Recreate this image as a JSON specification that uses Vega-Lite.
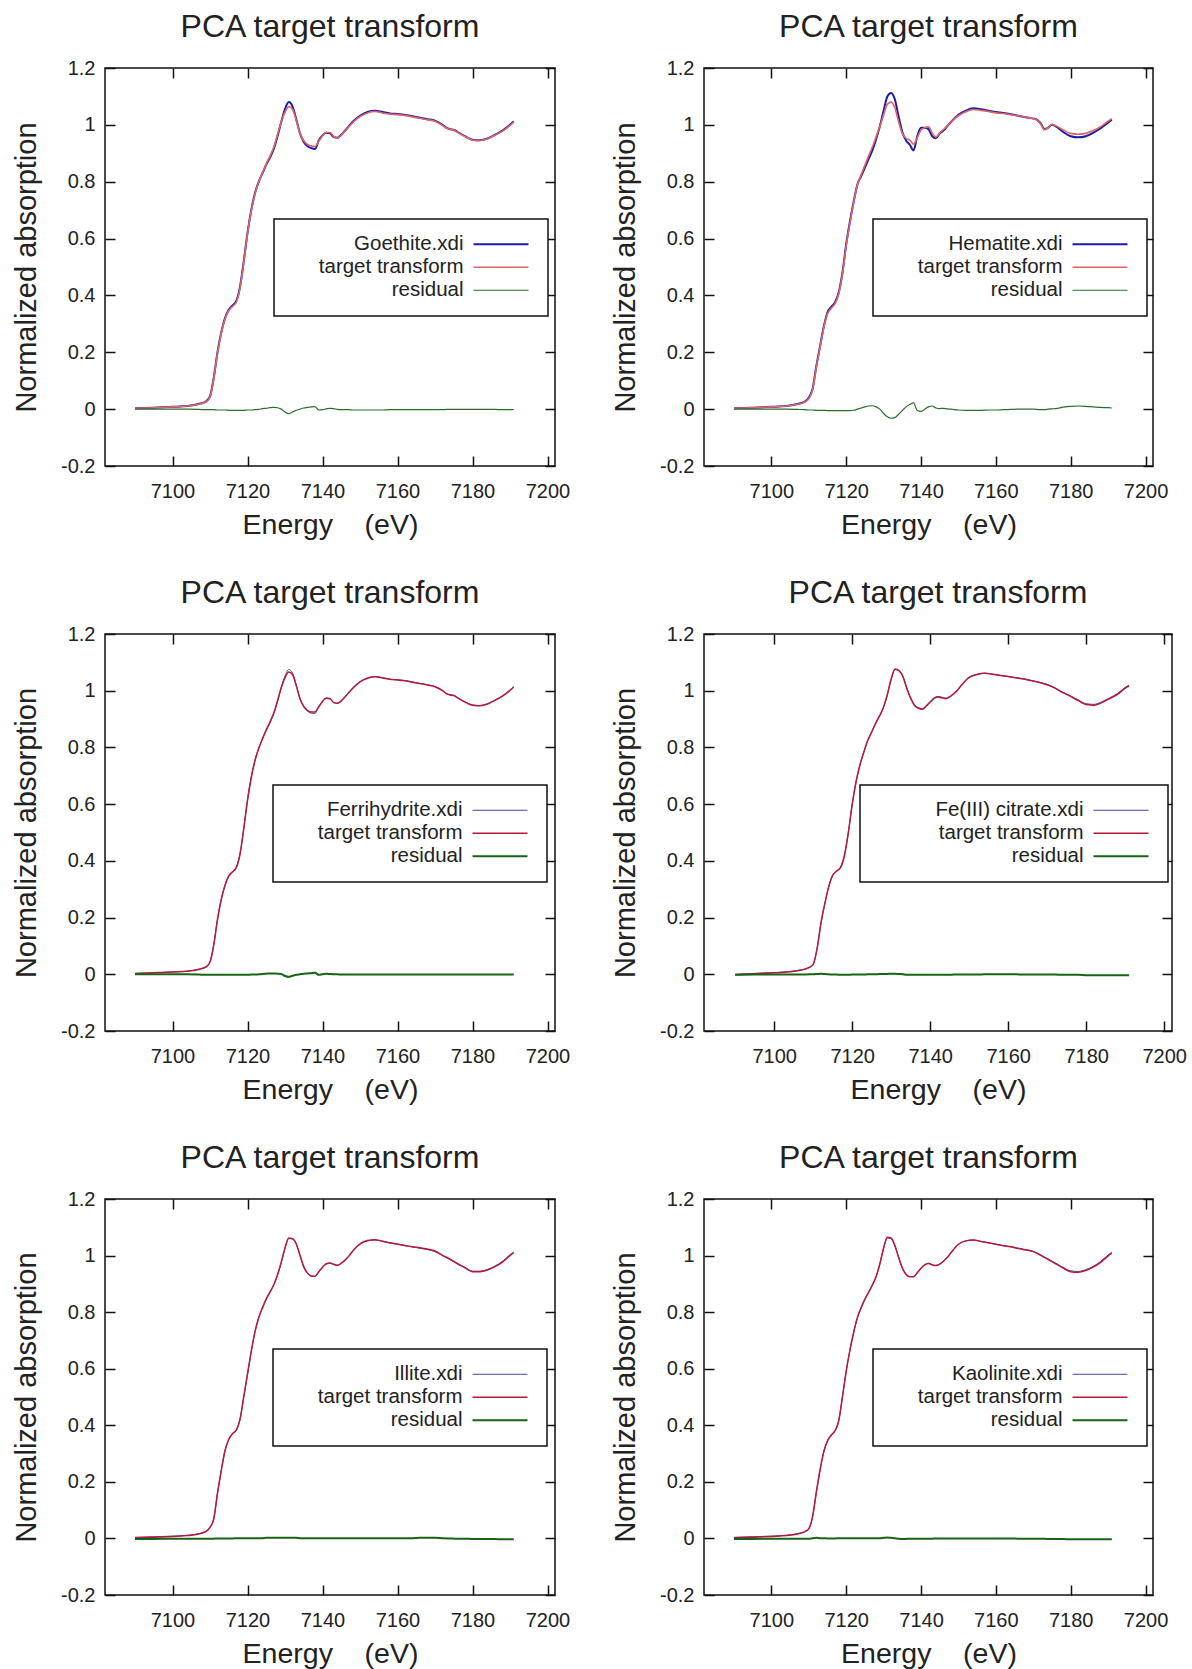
{
"$schema": "https://vega.github.io/schema/vega-lite/v6.json",
"background": "white",
"padding": {"left": 11, "top": 10, "right": 4, "bottom": 4},
"config": {
 "font": "Liberation Sans",
 "view": {"stroke": "#111", "strokeWidth": 1.5},
 "axis": {"domain": false, "grid": false, "tickSize": -10, "tickColor": "#111", "tickWidth": 1.5, "labelFont": "Liberation Sans", "labelFontSize": 20, "labelColor": "#222", "labelFlush": false, "labelOverlap": false, "titleFont": "Liberation Sans", "titleFontSize": 28.5, "titleFontWeight": "normal", "titleColor": "#222", "titleBaseline": "alphabetic"},
 "axisBottom": {"labelPadding": 41, "labelBaseline": "alphabetic", "titleY": 67},
 "axisLeft": {"labelPadding": 20, "titleX": -69.5, "titleFontSize": 29},
 "axisTop": {"labels": false},
 "axisRight": {"labels": false},
 "title": {"font": "Liberation Sans", "fontSize": 32, "fontWeight": "normal", "color": "#222", "baseline": "alphabetic", "offset": 14, "frame": "group", "anchor": "middle"},
 "legend": {"orient": "none", "labelFont": "Liberation Sans", "labelFontSize": 20.5, "labelColor": "#222", "labelLimit": 400, "padding": 15, "rowPadding": 2, "strokeColor": "#111", "fillColor": "white", "symbolType": "M-5.5,0H5.5", "symbolSize": 100}
},
"datasets": {
 "goethite": [
  {"E":7090,"ref":0.003,"tt":0.003,"res":0},{"E":7095,"ref":0.005,"tt":0.005,"res":0},{"E":7100,"ref":0.008,"tt":0.008,"res":0},{"E":7104,"ref":0.011,"tt":0.011,"res":0},{"E":7107,"ref":0.018,"tt":0.017,"res":-0.001},{"E":7109,"ref":0.028,"tt":0.026,"res":-0.002},{"E":7110,"ref":0.045,"tt":0.043,"res":-0.002},{"E":7111,"ref":0.11,"tt":0.108,"res":-0.002},{"E":7112,"ref":0.2,"tt":0.197,"res":-0.003},{"E":7113,"ref":0.27,"tt":0.267,"res":-0.003},{"E":7114,"ref":0.32,"tt":0.317,"res":-0.003},{"E":7115,"ref":0.35,"tt":0.346,"res":-0.004},{"E":7116,"ref":0.365,"tt":0.361,"res":-0.004},{"E":7117,"ref":0.38,"tt":0.376,"res":-0.004},{"E":7118,"ref":0.43,"tt":0.426,"res":-0.004},{"E":7119,"ref":0.52,"tt":0.516,"res":-0.004},{"E":7120,"ref":0.62,"tt":0.617,"res":-0.003},{"E":7121,"ref":0.7,"tt":0.697,"res":-0.003},{"E":7122,"ref":0.76,"tt":0.758,"res":-0.002},{"E":7123,"ref":0.8,"tt":0.799,"res":-0.001},{"E":7124,"ref":0.83,"tt":0.832,"res":0.002},{"E":7125,"ref":0.86,"tt":0.863,"res":0.003},{"E":7126,"ref":0.885,"tt":0.89,"res":0.005},{"E":7127,"ref":0.915,"tt":0.921,"res":0.006},{"E":7128,"ref":0.96,"tt":0.965,"res":0.005},{"E":7129,"ref":1.01,"tt":1.01,"res":0},{"E":7130,"ref":1.055,"tt":1.045,"res":-0.01},{"E":7131,"ref":1.08,"tt":1.064,"res":-0.016},{"E":7132,"ref":1.065,"tt":1.055,"res":-0.01},{"E":7133,"ref":1.02,"tt":1.016,"res":-0.004},{"E":7134,"ref":0.97,"tt":0.97,"res":0},{"E":7135,"ref":0.94,"tt":0.944,"res":0.004},{"E":7136,"ref":0.925,"tt":0.931,"res":0.006},{"E":7137,"ref":0.918,"tt":0.926,"res":0.008},{"E":7138,"ref":0.915,"tt":0.924,"res":0.009},{"E":7139,"ref":0.945,"tt":0.942,"res":-0.003},{"E":7140,"ref":0.963,"tt":0.961,"res":-0.002},{"E":7141,"ref":0.972,"tt":0.973,"res":0.001},{"E":7142,"ref":0.97,"tt":0.973,"res":0.003},{"E":7143,"ref":0.957,"tt":0.959,"res":0.002},{"E":7144,"ref":0.955,"tt":0.954,"res":-0.001},{"E":7145,"ref":0.965,"tt":0.963,"res":-0.002},{"E":7146,"ref":0.98,"tt":0.978,"res":-0.002},{"E":7147,"ref":0.995,"tt":0.993,"res":-0.002},{"E":7148,"ref":1.01,"tt":1.007,"res":-0.003},{"E":7150,"ref":1.032,"tt":1.029,"res":-0.003},{"E":7152,"ref":1.045,"tt":1.042,"res":-0.003},{"E":7154,"ref":1.05,"tt":1.047,"res":-0.003},{"E":7156,"ref":1.045,"tt":1.042,"res":-0.003},{"E":7158,"ref":1.04,"tt":1.038,"res":-0.002},{"E":7160,"ref":1.038,"tt":1.036,"res":-0.002},{"E":7162,"ref":1.035,"tt":1.033,"res":-0.002},{"E":7164,"ref":1.03,"tt":1.028,"res":-0.002},{"E":7166,"ref":1.025,"tt":1.023,"res":-0.002},{"E":7168,"ref":1.02,"tt":1.018,"res":-0.002},{"E":7170,"ref":1.015,"tt":1.013,"res":-0.002},{"E":7172,"ref":1.0,"tt":0.998,"res":-0.002},{"E":7173,"ref":0.99,"tt":0.989,"res":-0.001},{"E":7174,"ref":0.985,"tt":0.984,"res":-0.001},{"E":7175,"ref":0.983,"tt":0.982,"res":-0.001},{"E":7176,"ref":0.975,"tt":0.974,"res":-0.001},{"E":7178,"ref":0.96,"tt":0.959,"res":-0.001},{"E":7180,"ref":0.948,"tt":0.947,"res":-0.001},{"E":7182,"ref":0.946,"tt":0.945,"res":-0.001},{"E":7184,"ref":0.952,"tt":0.951,"res":-0.001},{"E":7186,"ref":0.965,"tt":0.964,"res":-0.001},{"E":7188,"ref":0.98,"tt":0.978,"res":-0.002},{"E":7190,"ref":1.0,"tt":0.998,"res":-0.002},{"E":7191,"ref":1.012,"tt":1.01,"res":-0.002}
 ],
 "hematite": [
  {"E":7090,"ref":0.003,"tt":0.003,"res":0},{"E":7095,"ref":0.005,"tt":0.005,"res":0},{"E":7100,"ref":0.008,"tt":0.008,"res":0},{"E":7104,"ref":0.011,"tt":0.011,"res":0},{"E":7107,"ref":0.018,"tt":0.017,"res":-0.001},{"E":7109,"ref":0.027,"tt":0.025,"res":-0.002},{"E":7110,"ref":0.04,"tt":0.037,"res":-0.003},{"E":7111,"ref":0.07,"tt":0.067,"res":-0.003},{"E":7112,"ref":0.15,"tt":0.146,"res":-0.004},{"E":7113,"ref":0.22,"tt":0.216,"res":-0.004},{"E":7114,"ref":0.29,"tt":0.286,"res":-0.004},{"E":7115,"ref":0.34,"tt":0.335,"res":-0.005},{"E":7116,"ref":0.36,"tt":0.355,"res":-0.005},{"E":7117,"ref":0.375,"tt":0.37,"res":-0.005},{"E":7118,"ref":0.41,"tt":0.405,"res":-0.005},{"E":7119,"ref":0.48,"tt":0.475,"res":-0.005},{"E":7120,"ref":0.58,"tt":0.575,"res":-0.005},{"E":7121,"ref":0.66,"tt":0.655,"res":-0.005},{"E":7122,"ref":0.73,"tt":0.726,"res":-0.004},{"E":7123,"ref":0.79,"tt":0.79,"res":0},{"E":7124,"ref":0.82,"tt":0.824,"res":0.004},{"E":7125,"ref":0.85,"tt":0.858,"res":0.008},{"E":7126,"ref":0.88,"tt":0.891,"res":0.011},{"E":7127,"ref":0.91,"tt":0.922,"res":0.012},{"E":7128,"ref":0.95,"tt":0.958,"res":0.008},{"E":7129,"ref":0.995,"tt":0.995,"res":0},{"E":7130,"ref":1.05,"tt":1.035,"res":-0.015},{"E":7131,"ref":1.1,"tt":1.073,"res":-0.027},{"E":7132,"ref":1.112,"tt":1.08,"res":-0.032},{"E":7133,"ref":1.09,"tt":1.06,"res":-0.03},{"E":7134,"ref":1.03,"tt":1.012,"res":-0.018},{"E":7135,"ref":0.975,"tt":0.97,"res":-0.005},{"E":7136,"ref":0.945,"tt":0.953,"res":0.008},{"E":7137,"ref":0.93,"tt":0.946,"res":0.016},{"E":7138,"ref":0.91,"tt":0.932,"res":0.022},{"E":7139,"ref":0.96,"tt":0.955,"res":-0.005},{"E":7140,"ref":0.99,"tt":0.982,"res":-0.008},{"E":7141,"ref":0.99,"tt":0.99,"res":0},{"E":7142,"ref":0.985,"tt":0.993,"res":0.008},{"E":7143,"ref":0.96,"tt":0.971,"res":0.011},{"E":7144,"ref":0.953,"tt":0.957,"res":0.004},{"E":7145,"ref":0.97,"tt":0.972,"res":0.002},{"E":7146,"ref":0.98,"tt":0.983,"res":0.003},{"E":7147,"ref":0.995,"tt":0.996,"res":0.001},{"E":7148,"ref":1.01,"tt":1.01,"res":0},{"E":7150,"ref":1.035,"tt":1.032,"res":-0.003},{"E":7152,"ref":1.05,"tt":1.046,"res":-0.004},{"E":7154,"ref":1.058,"tt":1.054,"res":-0.004},{"E":7156,"ref":1.055,"tt":1.051,"res":-0.004},{"E":7158,"ref":1.05,"tt":1.047,"res":-0.003},{"E":7160,"ref":1.045,"tt":1.042,"res":-0.003},{"E":7162,"ref":1.042,"tt":1.04,"res":-0.002},{"E":7164,"ref":1.037,"tt":1.036,"res":-0.001},{"E":7166,"ref":1.032,"tt":1.032,"res":0},{"E":7168,"ref":1.027,"tt":1.027,"res":0},{"E":7170,"ref":1.022,"tt":1.022,"res":0},{"E":7171,"ref":1.018,"tt":1.017,"res":-0.001},{"E":7172,"ref":1.005,"tt":1.003,"res":-0.002},{"E":7173,"ref":0.985,"tt":0.983,"res":-0.002},{"E":7174,"ref":0.99,"tt":0.99,"res":0},{"E":7175,"ref":1.0,"tt":1.001,"res":0.001},{"E":7176,"ref":0.995,"tt":0.997,"res":0.002},{"E":7178,"ref":0.975,"tt":0.982,"res":0.007},{"E":7180,"ref":0.96,"tt":0.97,"res":0.01},{"E":7182,"ref":0.956,"tt":0.967,"res":0.011},{"E":7184,"ref":0.96,"tt":0.97,"res":0.01},{"E":7186,"ref":0.972,"tt":0.98,"res":0.008},{"E":7188,"ref":0.988,"tt":0.994,"res":0.006},{"E":7190,"ref":1.008,"tt":1.013,"res":0.005},{"E":7191,"ref":1.018,"tt":1.022,"res":0.004}
 ],
 "ferrihydrite": [
  {"E":7090,"ref":0.003,"tt":0.003,"res":0},{"E":7095,"ref":0.005,"tt":0.005,"res":0},{"E":7100,"ref":0.008,"tt":0.008,"res":0},{"E":7104,"ref":0.011,"tt":0.011,"res":0},{"E":7107,"ref":0.018,"tt":0.017,"res":-0.001},{"E":7109,"ref":0.028,"tt":0.026,"res":-0.002},{"E":7110,"ref":0.045,"tt":0.043,"res":-0.002},{"E":7111,"ref":0.105,"tt":0.103,"res":-0.002},{"E":7112,"ref":0.195,"tt":0.193,"res":-0.002},{"E":7113,"ref":0.265,"tt":0.263,"res":-0.002},{"E":7114,"ref":0.315,"tt":0.313,"res":-0.002},{"E":7115,"ref":0.348,"tt":0.346,"res":-0.002},{"E":7116,"ref":0.363,"tt":0.361,"res":-0.002},{"E":7117,"ref":0.378,"tt":0.376,"res":-0.002},{"E":7118,"ref":0.425,"tt":0.423,"res":-0.002},{"E":7119,"ref":0.515,"tt":0.513,"res":-0.002},{"E":7120,"ref":0.615,"tt":0.613,"res":-0.002},{"E":7121,"ref":0.695,"tt":0.694,"res":-0.001},{"E":7122,"ref":0.755,"tt":0.754,"res":-0.001},{"E":7123,"ref":0.797,"tt":0.797,"res":0},{"E":7124,"ref":0.83,"tt":0.831,"res":0.001},{"E":7125,"ref":0.86,"tt":0.862,"res":0.002},{"E":7126,"ref":0.887,"tt":0.89,"res":0.003},{"E":7127,"ref":0.918,"tt":0.921,"res":0.003},{"E":7128,"ref":0.962,"tt":0.964,"res":0.002},{"E":7129,"ref":1.01,"tt":1.011,"res":0.001},{"E":7130,"ref":1.052,"tt":1.046,"res":-0.006},{"E":7131,"ref":1.075,"tt":1.066,"res":-0.009},{"E":7132,"ref":1.062,"tt":1.057,"res":-0.005},{"E":7133,"ref":1.02,"tt":1.018,"res":-0.002},{"E":7134,"ref":0.972,"tt":0.972,"res":0},{"E":7135,"ref":0.943,"tt":0.945,"res":0.002},{"E":7136,"ref":0.928,"tt":0.931,"res":0.003},{"E":7137,"ref":0.921,"tt":0.925,"res":0.004},{"E":7138,"ref":0.92,"tt":0.925,"res":0.005},{"E":7139,"ref":0.945,"tt":0.943,"res":-0.002},{"E":7140,"ref":0.962,"tt":0.962,"res":0},{"E":7141,"ref":0.972,"tt":0.974,"res":0.002},{"E":7142,"ref":0.971,"tt":0.972,"res":0.001},{"E":7143,"ref":0.958,"tt":0.958,"res":0},{"E":7144,"ref":0.956,"tt":0.956,"res":0},{"E":7145,"ref":0.965,"tt":0.964,"res":-0.001},{"E":7146,"ref":0.979,"tt":0.978,"res":-0.001},{"E":7147,"ref":0.994,"tt":0.993,"res":-0.001},{"E":7148,"ref":1.009,"tt":1.008,"res":-0.001},{"E":7150,"ref":1.032,"tt":1.031,"res":-0.001},{"E":7152,"ref":1.045,"tt":1.044,"res":-0.001},{"E":7154,"ref":1.05,"tt":1.049,"res":-0.001},{"E":7156,"ref":1.046,"tt":1.045,"res":-0.001},{"E":7158,"ref":1.041,"tt":1.04,"res":-0.001},{"E":7160,"ref":1.039,"tt":1.038,"res":-0.001},{"E":7162,"ref":1.036,"tt":1.035,"res":-0.001},{"E":7164,"ref":1.031,"tt":1.03,"res":-0.001},{"E":7166,"ref":1.026,"tt":1.025,"res":-0.001},{"E":7168,"ref":1.021,"tt":1.02,"res":-0.001},{"E":7170,"ref":1.015,"tt":1.014,"res":-0.001},{"E":7172,"ref":1.001,"tt":1.0,"res":-0.001},{"E":7173,"ref":0.991,"tt":0.99,"res":-0.001},{"E":7174,"ref":0.986,"tt":0.985,"res":-0.001},{"E":7175,"ref":0.984,"tt":0.983,"res":-0.001},{"E":7176,"ref":0.976,"tt":0.975,"res":-0.001},{"E":7178,"ref":0.961,"tt":0.96,"res":-0.001},{"E":7180,"ref":0.95,"tt":0.949,"res":-0.001},{"E":7182,"ref":0.948,"tt":0.947,"res":-0.001},{"E":7184,"ref":0.954,"tt":0.953,"res":-0.001},{"E":7186,"ref":0.967,"tt":0.966,"res":-0.001},{"E":7188,"ref":0.982,"tt":0.981,"res":-0.001},{"E":7190,"ref":1.002,"tt":1.001,"res":-0.001},{"E":7191,"ref":1.014,"tt":1.013,"res":-0.001}
 ],
 "citrate": [
  {"E":7090,"ref":0.0,"tt":-0.002,"res":-0.002},{"E":7095,"ref":0.003,"tt":0.002,"res":-0.001},{"E":7100,"ref":0.006,"tt":0.005,"res":-0.001},{"E":7104,"ref":0.01,"tt":0.009,"res":-0.001},{"E":7107,"ref":0.016,"tt":0.015,"res":-0.001},{"E":7109,"ref":0.024,"tt":0.024,"res":0},{"E":7110,"ref":0.035,"tt":0.035,"res":0},{"E":7111,"ref":0.09,"tt":0.091,"res":0.001},{"E":7112,"ref":0.18,"tt":0.182,"res":0.002},{"E":7113,"ref":0.25,"tt":0.251,"res":0.001},{"E":7114,"ref":0.31,"tt":0.31,"res":0},{"E":7115,"ref":0.35,"tt":0.349,"res":-0.001},{"E":7116,"ref":0.365,"tt":0.364,"res":-0.001},{"E":7117,"ref":0.378,"tt":0.376,"res":-0.002},{"E":7118,"ref":0.42,"tt":0.418,"res":-0.002},{"E":7119,"ref":0.5,"tt":0.498,"res":-0.002},{"E":7120,"ref":0.6,"tt":0.599,"res":-0.001},{"E":7121,"ref":0.68,"tt":0.679,"res":-0.001},{"E":7122,"ref":0.74,"tt":0.739,"res":-0.001},{"E":7123,"ref":0.785,"tt":0.784,"res":-0.001},{"E":7124,"ref":0.825,"tt":0.825,"res":0},{"E":7125,"ref":0.855,"tt":0.855,"res":0},{"E":7126,"ref":0.885,"tt":0.885,"res":0},{"E":7127,"ref":0.91,"tt":0.911,"res":0.001},{"E":7128,"ref":0.94,"tt":0.941,"res":0.001},{"E":7129,"ref":0.985,"tt":0.986,"res":0.001},{"E":7130,"ref":1.04,"tt":1.042,"res":0.002},{"E":7131,"ref":1.075,"tt":1.077,"res":0.002},{"E":7132,"ref":1.07,"tt":1.071,"res":0.001},{"E":7133,"ref":1.05,"tt":1.05,"res":0},{"E":7134,"ref":1.01,"tt":1.008,"res":-0.002},{"E":7135,"ref":0.975,"tt":0.973,"res":-0.002},{"E":7136,"ref":0.95,"tt":0.948,"res":-0.002},{"E":7137,"ref":0.94,"tt":0.938,"res":-0.002},{"E":7138,"ref":0.937,"tt":0.935,"res":-0.002},{"E":7139,"ref":0.948,"tt":0.946,"res":-0.002},{"E":7140,"ref":0.962,"tt":0.96,"res":-0.002},{"E":7141,"ref":0.975,"tt":0.973,"res":-0.002},{"E":7142,"ref":0.98,"tt":0.978,"res":-0.002},{"E":7143,"ref":0.977,"tt":0.975,"res":-0.002},{"E":7144,"ref":0.974,"tt":0.972,"res":-0.002},{"E":7145,"ref":0.98,"tt":0.978,"res":-0.002},{"E":7146,"ref":0.99,"tt":0.989,"res":-0.001},{"E":7147,"ref":1.003,"tt":1.002,"res":-0.001},{"E":7148,"ref":1.02,"tt":1.019,"res":-0.001},{"E":7150,"ref":1.048,"tt":1.047,"res":-0.001},{"E":7152,"ref":1.058,"tt":1.057,"res":-0.001},{"E":7154,"ref":1.062,"tt":1.062,"res":0},{"E":7156,"ref":1.058,"tt":1.058,"res":0},{"E":7158,"ref":1.054,"tt":1.054,"res":0},{"E":7160,"ref":1.05,"tt":1.05,"res":0},{"E":7162,"ref":1.046,"tt":1.046,"res":0},{"E":7164,"ref":1.042,"tt":1.041,"res":-0.001},{"E":7166,"ref":1.036,"tt":1.035,"res":-0.001},{"E":7168,"ref":1.03,"tt":1.029,"res":-0.001},{"E":7170,"ref":1.022,"tt":1.021,"res":-0.001},{"E":7172,"ref":1.01,"tt":1.009,"res":-0.001},{"E":7174,"ref":0.995,"tt":0.993,"res":-0.002},{"E":7176,"ref":0.982,"tt":0.98,"res":-0.002},{"E":7178,"ref":0.967,"tt":0.965,"res":-0.002},{"E":7180,"ref":0.954,"tt":0.951,"res":-0.003},{"E":7182,"ref":0.952,"tt":0.949,"res":-0.003},{"E":7184,"ref":0.961,"tt":0.958,"res":-0.003},{"E":7186,"ref":0.975,"tt":0.972,"res":-0.003},{"E":7188,"ref":0.99,"tt":0.987,"res":-0.003},{"E":7190,"ref":1.012,"tt":1.009,"res":-0.003},{"E":7191,"ref":1.02,"tt":1.017,"res":-0.003}
 ],
 "illite": [
  {"E":7090,"ref":0.004,"tt":0.002,"res":-0.002},{"E":7095,"ref":0.006,"tt":0.004,"res":-0.002},{"E":7100,"ref":0.008,"tt":0.007,"res":-0.001},{"E":7104,"ref":0.011,"tt":0.01,"res":-0.001},{"E":7107,"ref":0.017,"tt":0.016,"res":-0.001},{"E":7109,"ref":0.026,"tt":0.025,"res":-0.001},{"E":7110,"ref":0.04,"tt":0.039,"res":-0.001},{"E":7111,"ref":0.07,"tt":0.069,"res":-0.001},{"E":7112,"ref":0.16,"tt":0.16,"res":0},{"E":7113,"ref":0.24,"tt":0.24,"res":0},{"E":7114,"ref":0.31,"tt":0.31,"res":0},{"E":7115,"ref":0.35,"tt":0.35,"res":0},{"E":7116,"ref":0.37,"tt":0.37,"res":0},{"E":7117,"ref":0.382,"tt":0.383,"res":0.001},{"E":7118,"ref":0.42,"tt":0.421,"res":0.001},{"E":7119,"ref":0.5,"tt":0.501,"res":0.001},{"E":7120,"ref":0.58,"tt":0.581,"res":0.001},{"E":7121,"ref":0.66,"tt":0.661,"res":0.001},{"E":7122,"ref":0.73,"tt":0.731,"res":0.001},{"E":7123,"ref":0.78,"tt":0.781,"res":0.001},{"E":7124,"ref":0.815,"tt":0.816,"res":0.001},{"E":7125,"ref":0.845,"tt":0.847,"res":0.002},{"E":7126,"ref":0.87,"tt":0.872,"res":0.002},{"E":7127,"ref":0.895,"tt":0.897,"res":0.002},{"E":7128,"ref":0.93,"tt":0.932,"res":0.002},{"E":7129,"ref":0.975,"tt":0.977,"res":0.002},{"E":7130,"ref":1.025,"tt":1.027,"res":0.002},{"E":7131,"ref":1.06,"tt":1.062,"res":0.002},{"E":7132,"ref":1.058,"tt":1.06,"res":0.002},{"E":7133,"ref":1.04,"tt":1.042,"res":0.002},{"E":7134,"ref":1.0,"tt":1.001,"res":0.001},{"E":7135,"ref":0.96,"tt":0.961,"res":0.001},{"E":7136,"ref":0.937,"tt":0.938,"res":0.001},{"E":7137,"ref":0.927,"tt":0.928,"res":0.001},{"E":7138,"ref":0.926,"tt":0.927,"res":0.001},{"E":7139,"ref":0.942,"tt":0.943,"res":0.001},{"E":7140,"ref":0.958,"tt":0.959,"res":0.001},{"E":7141,"ref":0.97,"tt":0.971,"res":0.001},{"E":7142,"ref":0.973,"tt":0.974,"res":0.001},{"E":7143,"ref":0.968,"tt":0.969,"res":0.001},{"E":7144,"ref":0.965,"tt":0.966,"res":0.001},{"E":7145,"ref":0.972,"tt":0.973,"res":0.001},{"E":7146,"ref":0.983,"tt":0.984,"res":0.001},{"E":7147,"ref":0.997,"tt":0.998,"res":0.001},{"E":7148,"ref":1.014,"tt":1.015,"res":0.001},{"E":7150,"ref":1.04,"tt":1.041,"res":0.001},{"E":7152,"ref":1.052,"tt":1.053,"res":0.001},{"E":7154,"ref":1.055,"tt":1.056,"res":0.001},{"E":7156,"ref":1.05,"tt":1.051,"res":0.001},{"E":7158,"ref":1.044,"tt":1.045,"res":0.001},{"E":7160,"ref":1.04,"tt":1.041,"res":0.001},{"E":7162,"ref":1.035,"tt":1.036,"res":0.001},{"E":7164,"ref":1.03,"tt":1.031,"res":0.001},{"E":7166,"ref":1.026,"tt":1.028,"res":0.002},{"E":7168,"ref":1.021,"tt":1.023,"res":0.002},{"E":7170,"ref":1.014,"tt":1.016,"res":0.002},{"E":7172,"ref":1.0,"tt":1.001,"res":0.001},{"E":7174,"ref":0.987,"tt":0.987,"res":0},{"E":7176,"ref":0.972,"tt":0.971,"res":-0.001},{"E":7178,"ref":0.958,"tt":0.957,"res":-0.001},{"E":7180,"ref":0.945,"tt":0.943,"res":-0.002},{"E":7182,"ref":0.945,"tt":0.943,"res":-0.002},{"E":7184,"ref":0.951,"tt":0.949,"res":-0.002},{"E":7186,"ref":0.963,"tt":0.961,"res":-0.002},{"E":7188,"ref":0.98,"tt":0.977,"res":-0.003},{"E":7190,"ref":1.003,"tt":1.0,"res":-0.003},{"E":7191,"ref":1.013,"tt":1.01,"res":-0.003}
 ],
 "kaolinite": [
  {"E":7090,"ref":0.004,"tt":0.002,"res":-0.002},{"E":7095,"ref":0.006,"tt":0.004,"res":-0.002},{"E":7100,"ref":0.008,"tt":0.007,"res":-0.001},{"E":7104,"ref":0.011,"tt":0.01,"res":-0.001},{"E":7107,"ref":0.017,"tt":0.016,"res":-0.001},{"E":7109,"ref":0.025,"tt":0.024,"res":-0.001},{"E":7110,"ref":0.035,"tt":0.034,"res":-0.001},{"E":7111,"ref":0.075,"tt":0.076,"res":0.001},{"E":7112,"ref":0.16,"tt":0.162,"res":0.002},{"E":7113,"ref":0.24,"tt":0.241,"res":0.001},{"E":7114,"ref":0.305,"tt":0.306,"res":0.001},{"E":7115,"ref":0.345,"tt":0.345,"res":0},{"E":7116,"ref":0.365,"tt":0.365,"res":0},{"E":7117,"ref":0.38,"tt":0.38,"res":0},{"E":7118,"ref":0.415,"tt":0.416,"res":0.001},{"E":7119,"ref":0.5,"tt":0.501,"res":0.001},{"E":7120,"ref":0.59,"tt":0.591,"res":0.001},{"E":7121,"ref":0.665,"tt":0.666,"res":0.001},{"E":7122,"ref":0.728,"tt":0.729,"res":0.001},{"E":7123,"ref":0.78,"tt":0.781,"res":0.001},{"E":7124,"ref":0.815,"tt":0.816,"res":0.001},{"E":7125,"ref":0.845,"tt":0.846,"res":0.001},{"E":7126,"ref":0.87,"tt":0.871,"res":0.001},{"E":7127,"ref":0.895,"tt":0.896,"res":0.001},{"E":7128,"ref":0.925,"tt":0.926,"res":0.001},{"E":7129,"ref":0.97,"tt":0.971,"res":0.001},{"E":7130,"ref":1.025,"tt":1.027,"res":0.002},{"E":7131,"ref":1.062,"tt":1.065,"res":0.003},{"E":7132,"ref":1.06,"tt":1.062,"res":0.002},{"E":7133,"ref":1.035,"tt":1.036,"res":0.001},{"E":7134,"ref":0.995,"tt":0.994,"res":-0.001},{"E":7135,"ref":0.958,"tt":0.956,"res":-0.002},{"E":7136,"ref":0.935,"tt":0.933,"res":-0.002},{"E":7137,"ref":0.926,"tt":0.925,"res":-0.001},{"E":7138,"ref":0.926,"tt":0.925,"res":-0.001},{"E":7139,"ref":0.94,"tt":0.939,"res":-0.001},{"E":7140,"ref":0.956,"tt":0.955,"res":-0.001},{"E":7141,"ref":0.968,"tt":0.967,"res":-0.001},{"E":7142,"ref":0.973,"tt":0.972,"res":-0.001},{"E":7143,"ref":0.968,"tt":0.967,"res":-0.001},{"E":7144,"ref":0.965,"tt":0.965,"res":0},{"E":7145,"ref":0.97,"tt":0.97,"res":0},{"E":7146,"ref":0.98,"tt":0.98,"res":0},{"E":7147,"ref":0.993,"tt":0.993,"res":0},{"E":7148,"ref":1.01,"tt":1.01,"res":0},{"E":7150,"ref":1.04,"tt":1.04,"res":0},{"E":7152,"ref":1.052,"tt":1.052,"res":0},{"E":7154,"ref":1.055,"tt":1.055,"res":0},{"E":7156,"ref":1.05,"tt":1.05,"res":0},{"E":7158,"ref":1.045,"tt":1.045,"res":0},{"E":7160,"ref":1.04,"tt":1.04,"res":0},{"E":7162,"ref":1.035,"tt":1.035,"res":0},{"E":7164,"ref":1.031,"tt":1.031,"res":0},{"E":7166,"ref":1.026,"tt":1.025,"res":-0.001},{"E":7168,"ref":1.021,"tt":1.02,"res":-0.001},{"E":7170,"ref":1.015,"tt":1.014,"res":-0.001},{"E":7172,"ref":1.002,"tt":1.001,"res":-0.001},{"E":7174,"ref":0.988,"tt":0.986,"res":-0.002},{"E":7176,"ref":0.973,"tt":0.971,"res":-0.002},{"E":7178,"ref":0.958,"tt":0.956,"res":-0.002},{"E":7180,"ref":0.946,"tt":0.943,"res":-0.003},{"E":7182,"ref":0.944,"tt":0.941,"res":-0.003},{"E":7184,"ref":0.95,"tt":0.947,"res":-0.003},{"E":7186,"ref":0.962,"tt":0.959,"res":-0.003},{"E":7188,"ref":0.979,"tt":0.976,"res":-0.003},{"E":7190,"ref":1.002,"tt":0.999,"res":-0.003},{"E":7191,"ref":1.012,"tt":1.009,"res":-0.003}
 ]
},
"columns": 2,
"bounds": "flush",
"align": "each",
"spacing": {"row": 168, "column": 149},
"resolve": {"scale": {"color": "independent", "strokeWidth": "independent"}, "legend": {"color": "independent", "strokeWidth": "independent"}},
"concat": [
 {"width": 450, "height": 398, "title": "PCA target transform", "data": {"name": "goethite"},
  "transform": [{"fold": ["ref", "tt", "res"], "as": ["series", "value"]}],
  "layer": [
   {"mark": {"type": "line", "interpolate": "monotone"},
    "encoding": {
     "x": {"field": "E", "type": "quantitative", "scale": {"domain": [7082, 7202], "nice": false, "zero": false}, "axis": {"title": "Energy\u00a0\u00a0\u00a0\u00a0(eV)", "values": [7100, 7120, 7140, 7160, 7180, 7200], "labelExpr": "'' + datum.value"}},
     "y": {"field": "value", "type": "quantitative", "scale": {"domain": [-0.2, 1.2], "nice": false, "zero": false}, "axis": {"title": "Normalized absorption", "values": [-0.2, 0, 0.2, 0.4, 0.6, 0.8, 1, 1.2], "labelExpr": "'' + datum.value"}},
     "color": {"field": "series", "type": "nominal", "scale": {"domain": ["ref", "tt", "res"], "range": ["#1b1baa", "#e06464", "#2a6e2a"]}, "legend": {"title": null, "legendX": 169, "legendY": 151, "labelExpr": "datum.label == 'ref' ? 'Goethite.xdi' : datum.label == 'tt' ? 'target transform' : 'residual'", "encode": {"labels": {"update": {"x": {"value": 174.5}, "align": {"value": "right"}}}, "symbols": {"update": {"x": {"value": 212}}}, "legend": {"update": {"strokeWidth": {"value": 1.5}}}}}},
     "strokeWidth": {"field": "series", "type": "nominal", "scale": {"domain": ["ref", "tt", "res"], "range": [2, 1.2, 1.2]}, "legend": {"title": null, "legendX": 169, "legendY": 151, "labelExpr": "datum.label == 'ref' ? 'Goethite.xdi' : datum.label == 'tt' ? 'target transform' : 'residual'", "encode": {"labels": {"update": {"x": {"value": 174.5}, "align": {"value": "right"}}}, "symbols": {"update": {"x": {"value": 212}}}, "legend": {"update": {"strokeWidth": {"value": 1.5}}}}}}
    }},
   {"mark": {"type": "line", "opacity": 0},
    "encoding": {
     "x": {"field": "E", "type": "quantitative", "scale": {"domain": [7082, 7202], "nice": false, "zero": false}, "axis": {"orient": "top", "title": null, "values": [7100, 7120, 7140, 7160, 7180, 7200]}},
     "y": {"field": "value", "type": "quantitative", "scale": {"domain": [-0.2, 1.2], "nice": false, "zero": false}, "axis": {"orient": "right", "title": null, "values": [-0.2, 0, 0.2, 0.4, 0.6, 0.8, 1, 1.2]}}
    }}
  ],
  "resolve": {"axis": {"x": "independent", "y": "independent"}}
 },
 {"width": 449, "height": 398, "title": "PCA target transform", "data": {"name": "hematite"},
  "transform": [{"fold": ["ref", "tt", "res"], "as": ["series", "value"]}],
  "layer": [
   {"mark": {"type": "line", "interpolate": "monotone"},
    "encoding": {
     "x": {"field": "E", "type": "quantitative", "scale": {"domain": [7082, 7202], "nice": false, "zero": false}, "axis": {"title": "Energy\u00a0\u00a0\u00a0\u00a0(eV)", "values": [7100, 7120, 7140, 7160, 7180, 7200], "labelExpr": "'' + datum.value"}},
     "y": {"field": "value", "type": "quantitative", "scale": {"domain": [-0.2, 1.2], "nice": false, "zero": false}, "axis": {"title": "Normalized absorption", "values": [-0.2, 0, 0.2, 0.4, 0.6, 0.8, 1, 1.2], "labelExpr": "'' + datum.value"}},
     "color": {"field": "series", "type": "nominal", "scale": {"domain": ["ref", "tt", "res"], "range": ["#1b1baa", "#e06464", "#2a6e2a"]}, "legend": {"title": null, "legendX": 169, "legendY": 151, "labelExpr": "datum.label == 'ref' ? 'Hematite.xdi' : datum.label == 'tt' ? 'target transform' : 'residual'", "encode": {"labels": {"update": {"x": {"value": 174.5}, "align": {"value": "right"}}}, "symbols": {"update": {"x": {"value": 212}}}, "legend": {"update": {"strokeWidth": {"value": 1.5}}}}}},
     "strokeWidth": {"field": "series", "type": "nominal", "scale": {"domain": ["ref", "tt", "res"], "range": [2, 1.2, 1.2]}, "legend": {"title": null, "legendX": 169, "legendY": 151, "labelExpr": "datum.label == 'ref' ? 'Hematite.xdi' : datum.label == 'tt' ? 'target transform' : 'residual'", "encode": {"labels": {"update": {"x": {"value": 174.5}, "align": {"value": "right"}}}, "symbols": {"update": {"x": {"value": 212}}}, "legend": {"update": {"strokeWidth": {"value": 1.5}}}}}}
    }},
   {"mark": {"type": "line", "opacity": 0},
    "encoding": {
     "x": {"field": "E", "type": "quantitative", "scale": {"domain": [7082, 7202], "nice": false, "zero": false}, "axis": {"orient": "top", "title": null, "values": [7100, 7120, 7140, 7160, 7180, 7200]}},
     "y": {"field": "value", "type": "quantitative", "scale": {"domain": [-0.2, 1.2], "nice": false, "zero": false}, "axis": {"orient": "right", "title": null, "values": [-0.2, 0, 0.2, 0.4, 0.6, 0.8, 1, 1.2]}}
    }}
  ],
  "resolve": {"axis": {"x": "independent", "y": "independent"}}
 },
 {"width": 450, "height": 397, "title": "PCA target transform", "data": {"name": "ferrihydrite"},
  "transform": [{"fold": ["ref", "tt", "res"], "as": ["series", "value"]}],
  "layer": [
   {"mark": {"type": "line", "interpolate": "monotone"},
    "encoding": {
     "x": {"field": "E", "type": "quantitative", "scale": {"domain": [7082, 7202], "nice": false, "zero": false}, "axis": {"title": "Energy\u00a0\u00a0\u00a0\u00a0(eV)", "values": [7100, 7120, 7140, 7160, 7180, 7200], "labelExpr": "'' + datum.value"}},
     "y": {"field": "value", "type": "quantitative", "scale": {"domain": [-0.2, 1.2], "nice": false, "zero": false}, "axis": {"title": "Normalized absorption", "values": [-0.2, 0, 0.2, 0.4, 0.6, 0.8, 1, 1.2], "labelExpr": "'' + datum.value"}},
     "color": {"field": "series", "type": "nominal", "scale": {"domain": ["ref", "tt", "res"], "range": ["#4545a8", "#b81838", "#156515"]}, "legend": {"title": null, "legendX": 168, "legendY": 151, "labelExpr": "datum.label == 'ref' ? 'Ferrihydrite.xdi' : datum.label == 'tt' ? 'target transform' : 'residual'", "encode": {"labels": {"update": {"x": {"value": 174.5}, "align": {"value": "right"}}}, "symbols": {"update": {"x": {"value": 212}}}, "legend": {"update": {"strokeWidth": {"value": 1.5}}}}}},
     "strokeWidth": {"field": "series", "type": "nominal", "scale": {"domain": ["ref", "tt", "res"], "range": [1, 2, 2]}, "legend": {"title": null, "legendX": 168, "legendY": 151, "labelExpr": "datum.label == 'ref' ? 'Ferrihydrite.xdi' : datum.label == 'tt' ? 'target transform' : 'residual'", "encode": {"labels": {"update": {"x": {"value": 174.5}, "align": {"value": "right"}}}, "symbols": {"update": {"x": {"value": 212}}}, "legend": {"update": {"strokeWidth": {"value": 1.5}}}}}}
    }},
   {"mark": {"type": "line", "opacity": 0},
    "encoding": {
     "x": {"field": "E", "type": "quantitative", "scale": {"domain": [7082, 7202], "nice": false, "zero": false}, "axis": {"orient": "top", "title": null, "values": [7100, 7120, 7140, 7160, 7180, 7200]}},
     "y": {"field": "value", "type": "quantitative", "scale": {"domain": [-0.2, 1.2], "nice": false, "zero": false}, "axis": {"orient": "right", "title": null, "values": [-0.2, 0, 0.2, 0.4, 0.6, 0.8, 1, 1.2]}}
    }}
  ],
  "resolve": {"axis": {"x": "independent", "y": "independent"}}
 },
 {"width": 468, "height": 397, "title": "PCA target transform", "data": {"name": "citrate"},
  "transform": [{"fold": ["ref", "tt", "res"], "as": ["series", "value"]}],
  "layer": [
   {"mark": {"type": "line", "interpolate": "monotone"},
    "encoding": {
     "x": {"field": "E", "type": "quantitative", "scale": {"domain": [7082, 7202], "nice": false, "zero": false}, "axis": {"title": "Energy\u00a0\u00a0\u00a0\u00a0(eV)", "values": [7100, 7120, 7140, 7160, 7180, 7200], "labelExpr": "'' + datum.value"}},
     "y": {"field": "value", "type": "quantitative", "scale": {"domain": [-0.2, 1.2], "nice": false, "zero": false}, "axis": {"title": "Normalized absorption", "values": [-0.2, 0, 0.2, 0.4, 0.6, 0.8, 1, 1.2], "labelExpr": "'' + datum.value"}},
     "color": {"field": "series", "type": "nominal", "scale": {"domain": ["ref", "tt", "res"], "range": ["#4545a8", "#b81838", "#156515"]}, "legend": {"title": null, "legendX": 156, "legendY": 151, "labelExpr": "datum.label == 'ref' ? 'Fe(III) citrate.xdi' : datum.label == 'tt' ? 'target transform' : 'residual'", "encode": {"labels": {"update": {"x": {"value": 208.5}, "align": {"value": "right"}}}, "symbols": {"update": {"x": {"value": 246}}}, "legend": {"update": {"strokeWidth": {"value": 1.5}}}}}},
     "strokeWidth": {"field": "series", "type": "nominal", "scale": {"domain": ["ref", "tt", "res"], "range": [1, 2, 2]}, "legend": {"title": null, "legendX": 156, "legendY": 151, "labelExpr": "datum.label == 'ref' ? 'Fe(III) citrate.xdi' : datum.label == 'tt' ? 'target transform' : 'residual'", "encode": {"labels": {"update": {"x": {"value": 208.5}, "align": {"value": "right"}}}, "symbols": {"update": {"x": {"value": 246}}}, "legend": {"update": {"strokeWidth": {"value": 1.5}}}}}}
    }},
   {"mark": {"type": "line", "opacity": 0},
    "encoding": {
     "x": {"field": "E", "type": "quantitative", "scale": {"domain": [7082, 7202], "nice": false, "zero": false}, "axis": {"orient": "top", "title": null, "values": [7100, 7120, 7140, 7160, 7180, 7200]}},
     "y": {"field": "value", "type": "quantitative", "scale": {"domain": [-0.2, 1.2], "nice": false, "zero": false}, "axis": {"orient": "right", "title": null, "values": [-0.2, 0, 0.2, 0.4, 0.6, 0.8, 1, 1.2]}}
    }}
  ],
  "resolve": {"axis": {"x": "independent", "y": "independent"}}
 },
 {"width": 450, "height": 396, "title": "PCA target transform", "data": {"name": "illite"},
  "transform": [{"fold": ["ref", "tt", "res"], "as": ["series", "value"]}],
  "layer": [
   {"mark": {"type": "line", "interpolate": "monotone"},
    "encoding": {
     "x": {"field": "E", "type": "quantitative", "scale": {"domain": [7082, 7202], "nice": false, "zero": false}, "axis": {"title": "Energy\u00a0\u00a0\u00a0\u00a0(eV)", "values": [7100, 7120, 7140, 7160, 7180, 7200], "labelExpr": "'' + datum.value"}},
     "y": {"field": "value", "type": "quantitative", "scale": {"domain": [-0.2, 1.2], "nice": false, "zero": false}, "axis": {"title": "Normalized absorption", "values": [-0.2, 0, 0.2, 0.4, 0.6, 0.8, 1, 1.2], "labelExpr": "'' + datum.value"}},
     "color": {"field": "series", "type": "nominal", "scale": {"domain": ["ref", "tt", "res"], "range": ["#4545a8", "#b81838", "#156515"]}, "legend": {"title": null, "legendX": 168, "legendY": 150, "labelExpr": "datum.label == 'ref' ? 'Illite.xdi' : datum.label == 'tt' ? 'target transform' : 'residual'", "encode": {"labels": {"update": {"x": {"value": 174.5}, "align": {"value": "right"}}}, "symbols": {"update": {"x": {"value": 212}}}, "legend": {"update": {"strokeWidth": {"value": 1.5}}}}}},
     "strokeWidth": {"field": "series", "type": "nominal", "scale": {"domain": ["ref", "tt", "res"], "range": [1, 2, 2]}, "legend": {"title": null, "legendX": 168, "legendY": 150, "labelExpr": "datum.label == 'ref' ? 'Illite.xdi' : datum.label == 'tt' ? 'target transform' : 'residual'", "encode": {"labels": {"update": {"x": {"value": 174.5}, "align": {"value": "right"}}}, "symbols": {"update": {"x": {"value": 212}}}, "legend": {"update": {"strokeWidth": {"value": 1.5}}}}}}
    }},
   {"mark": {"type": "line", "opacity": 0},
    "encoding": {
     "x": {"field": "E", "type": "quantitative", "scale": {"domain": [7082, 7202], "nice": false, "zero": false}, "axis": {"orient": "top", "title": null, "values": [7100, 7120, 7140, 7160, 7180, 7200]}},
     "y": {"field": "value", "type": "quantitative", "scale": {"domain": [-0.2, 1.2], "nice": false, "zero": false}, "axis": {"orient": "right", "title": null, "values": [-0.2, 0, 0.2, 0.4, 0.6, 0.8, 1, 1.2]}}
    }}
  ],
  "resolve": {"axis": {"x": "independent", "y": "independent"}}
 },
 {"width": 449, "height": 396, "title": "PCA target transform", "data": {"name": "kaolinite"},
  "transform": [{"fold": ["ref", "tt", "res"], "as": ["series", "value"]}],
  "layer": [
   {"mark": {"type": "line", "interpolate": "monotone"},
    "encoding": {
     "x": {"field": "E", "type": "quantitative", "scale": {"domain": [7082, 7202], "nice": false, "zero": false}, "axis": {"title": "Energy\u00a0\u00a0\u00a0\u00a0(eV)", "values": [7100, 7120, 7140, 7160, 7180, 7200], "labelExpr": "'' + datum.value"}},
     "y": {"field": "value", "type": "quantitative", "scale": {"domain": [-0.2, 1.2], "nice": false, "zero": false}, "axis": {"title": "Normalized absorption", "values": [-0.2, 0, 0.2, 0.4, 0.6, 0.8, 1, 1.2], "labelExpr": "'' + datum.value"}},
     "color": {"field": "series", "type": "nominal", "scale": {"domain": ["ref", "tt", "res"], "range": ["#4545a8", "#b81838", "#156515"]}, "legend": {"title": null, "legendX": 169, "legendY": 150, "labelExpr": "datum.label == 'ref' ? 'Kaolinite.xdi' : datum.label == 'tt' ? 'target transform' : 'residual'", "encode": {"labels": {"update": {"x": {"value": 174.5}, "align": {"value": "right"}}}, "symbols": {"update": {"x": {"value": 212}}}, "legend": {"update": {"strokeWidth": {"value": 1.5}}}}}},
     "strokeWidth": {"field": "series", "type": "nominal", "scale": {"domain": ["ref", "tt", "res"], "range": [1, 2, 2]}, "legend": {"title": null, "legendX": 169, "legendY": 150, "labelExpr": "datum.label == 'ref' ? 'Kaolinite.xdi' : datum.label == 'tt' ? 'target transform' : 'residual'", "encode": {"labels": {"update": {"x": {"value": 174.5}, "align": {"value": "right"}}}, "symbols": {"update": {"x": {"value": 212}}}, "legend": {"update": {"strokeWidth": {"value": 1.5}}}}}}
    }},
   {"mark": {"type": "line", "opacity": 0},
    "encoding": {
     "x": {"field": "E", "type": "quantitative", "scale": {"domain": [7082, 7202], "nice": false, "zero": false}, "axis": {"orient": "top", "title": null, "values": [7100, 7120, 7140, 7160, 7180, 7200]}},
     "y": {"field": "value", "type": "quantitative", "scale": {"domain": [-0.2, 1.2], "nice": false, "zero": false}, "axis": {"orient": "right", "title": null, "values": [-0.2, 0, 0.2, 0.4, 0.6, 0.8, 1, 1.2]}}
    }}
  ],
  "resolve": {"axis": {"x": "independent", "y": "independent"}}
 }
]
}
